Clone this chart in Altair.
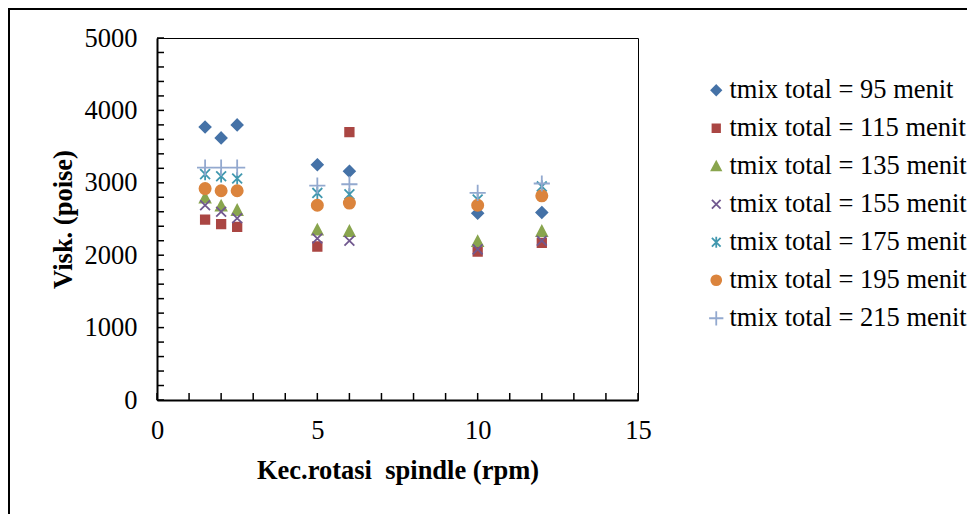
import altair as alt
import pandas as pd

# Spindle speeds (rpm) shared by every series
rpm = [1.5, 2, 2.5, 5, 6, 10, 12]

series_names = [
    "tmix total = 95 menit",
    "tmix total = 115 menit",
    "tmix total = 135 menit",
    "tmix total = 155 menit",
    "tmix total = 175 menit",
    "tmix total = 195 menit",
    "tmix total = 215 menit",
]

# Viscosity (poise) per mixing time
visk_95 = [3770, 3620, 3800, 3250, 3160, 2580, 2590]
visk_115 = [2490, 2430, 2390, 2120, 3700, 2050, 2170]
visk_135 = [2790, 2680, 2620, 2350, 2330, 2190, 2330]
visk_155 = [2690, 2600, 2510, 2230, 2200, 2080, 2200]
visk_175 = [3120, 3090, 3060, 2860, 2840, 2770, 2950]
visk_195 = [2920, 2890, 2890, 2690, 2720, 2690, 2820]
visk_215 = [3210, 3210, 3210, 2960, 2980, 2860, 2990]

all_series = [visk_95, visk_115, visk_135, visk_155, visk_175, visk_195, visk_215]

colors = ["#4572A7", "#AA4643", "#89A54E", "#71588F", "#4198AF", "#DB843D", "#93A9CF"]

# Marker outlines in the [-1, 1] symbol box
shape_paths = [
    "M0,-0.65L0.65,0L0,0.65L-0.65,0Z",
    "M-0.5,-0.5L0.5,-0.5L0.5,0.5L-0.5,0.5Z",
    "M0,-0.62L0.62,0.55L-0.62,0.55Z",
    "M-0.58,-0.58L0.58,0.58M-0.58,0.58L0.58,-0.58",
    "M-0.58,-0.58L0.58,0.58M-0.58,0.58L0.58,-0.58M0,-0.72L0,0.72",
    "M0.66,0A0.66,0.66 0 1,1 -0.66,0A0.66,0.66 0 1,1 0.66,0Z",
    "M-0.95,0L0.95,0M0,-0.95L0,0.95",
]

x_label_values = [0, 5, 10, 15]
y_label_values = [0, 1000, 2000, 3000, 4000, 5000]
x_minor_ticks = list(range(0, 16))
y_minor_ticks = list(range(0, 5001, 200))

FONT = "Liberation Serif"
FS = 26.5

rows = []
k = 0
for name, vals in zip(series_names, all_series):
    for r, v in zip(rpm, vals):
        rows.append({"rpm": r, "visk": v, "series": name, "k": k})
        k += 1
df = pd.DataFrame(rows)

x_scale = alt.Scale(domain=[0, 15], nice=False, zero=False)
y_scale = alt.Scale(domain=[0, 5000], nice=False)

x_axis = alt.Axis(values=x_label_values, title="Kec.rotasi\u00a0 spindle (rpm)",
                  format="d", labelFlush=False, labelPadding=17, titlePadding=14)
y_axis = alt.Axis(values=y_label_values, title="Visk. (poise)",
                  format="d", labelFlush=False, labelPadding=20, titlePadding=7)

legend = alt.Legend(
    orient="none",
    legendX=546,
    legendY=39,
    padding=0,
    labelFont=FONT,
    labelFontSize=FS,
    labelColor="black",
    labelOffset=0,
    labelLimit=400,
    symbolSize=225,
    symbolStrokeWidth=1.8,
    symbolOpacity=1,
    rowPadding=11,
)

points = alt.Chart(df).mark_point(
    filled=True, opacity=1, fillOpacity=1, strokeWidth=1.8, size=289
).encode(
    x=alt.X("rpm:Q", scale=x_scale, axis=x_axis),
    y=alt.Y("visk:Q", scale=y_scale, axis=y_axis),
    fill=alt.Fill("series:N", scale=alt.Scale(domain=series_names, range=colors),
                  title=None, legend=legend),
    stroke=alt.Stroke("series:N", scale=alt.Scale(domain=series_names, range=colors),
                      title=None, legend=legend),
    shape=alt.Shape("series:N", scale=alt.Scale(domain=series_names, range=shape_paths),
                    title=None, legend=legend),
    order=alt.Order("k:Q"),
)

# Inward-pointing tick marks along both axes
y_ticks = alt.Chart(pd.DataFrame({"visk": y_minor_ticks})).mark_rule(
    color="black", strokeWidth=1.5
).encode(
    y=alt.Y("visk:Q", scale=y_scale, axis=y_axis),
    x=alt.value(0),
    x2=alt.value(7),
)

x_ticks = alt.Chart(pd.DataFrame({"rpm": x_minor_ticks})).mark_rule(
    color="black", strokeWidth=1.5
).encode(
    x=alt.X("rpm:Q", scale=x_scale, axis=x_axis),
    y=alt.value(362),
    y2=alt.value(355),
)

# Outer chart frame
frame = alt.Chart(alt.Data(values=[{}])).mark_rect(
    fillOpacity=0, stroke="black", strokeWidth=2
).encode(
    x=alt.value(-148),
    x2=alt.value(900),
    y=alt.value(-29),
    y2=alt.value(600),
)

chart = alt.layer(points, y_ticks, x_ticks, frame).properties(
    width=481,
    height=362,
    autosize=alt.AutoSizeParams(type="none"),
    padding={"left": 157, "top": 38, "right": 329, "bottom": 114},
    background="white",
).configure_view(
    stroke="black", strokeWidth=1
).configure_axis(
    grid=False,
    ticks=False,
    domainColor="black",
    domainWidth=2,
    labelFont=FONT,
    labelFontSize=FS,
    labelColor="black",
    titleFont=FONT,
    titleFontSize=FS,
    titleFontWeight="bold",
    titleColor="black",
)

chart.save("out.html", embed_options={"renderer": "svg", "actions": False})
